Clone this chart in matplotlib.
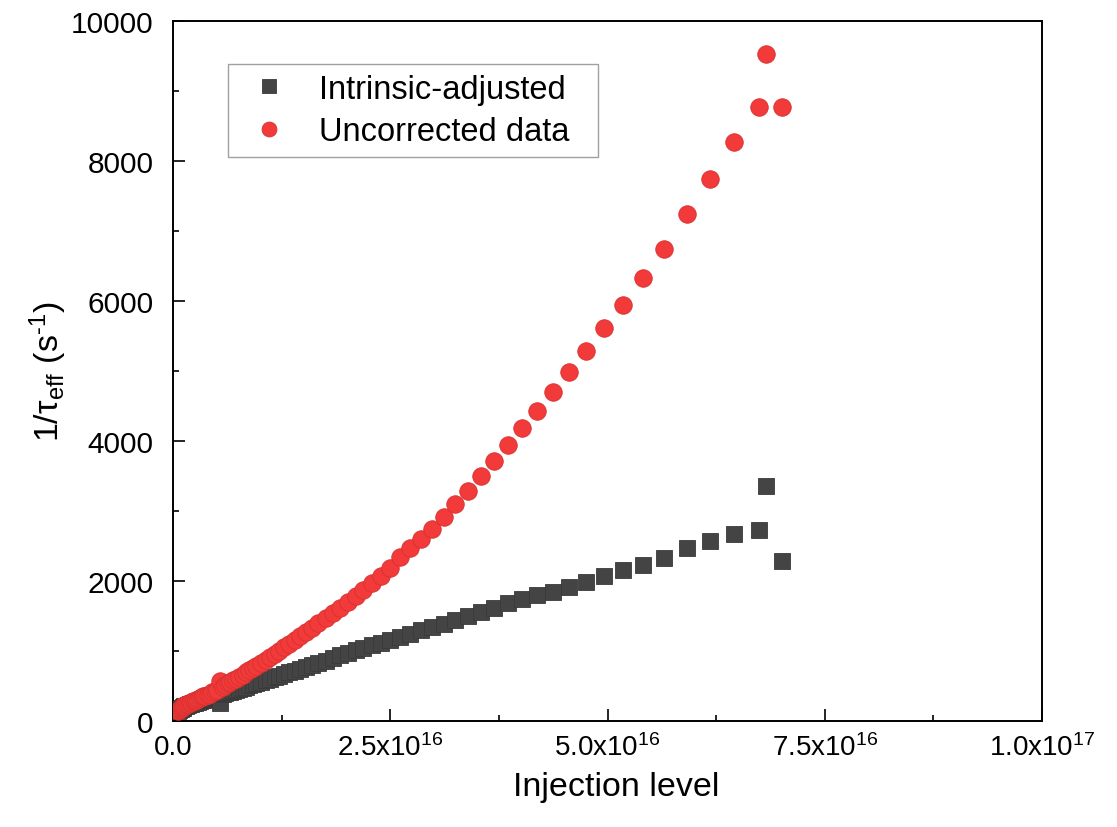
import numpy as np
import matplotlib
matplotlib.use("Agg")
import matplotlib.pyplot as plt
from matplotlib.ticker import MultipleLocator, FixedLocator, FixedFormatter

plt.rcParams["font.family"] = ["Liberation Sans", "DejaVu Sans"]
plt.rcParams["mathtext.fontset"] = "custom"
plt.rcParams["mathtext.rm"] = "Liberation Sans"
plt.rcParams["mathtext.it"] = "Liberation Sans:italic"

# Injection level (in units of 1e16 cm^-3)
injection_e16 = [
    0.06, 0.07, 0.08, 0.09, 0.10, 0.11, 0.12, 0.13, 0.15, 0.17,
    0.19, 0.21, 0.23, 0.25, 0.27, 0.29, 0.31, 0.33, 0.35, 0.37,
    0.40, 0.42, 0.45, 0.48, 0.51, 0.54, 0.57, 0.60, 0.63, 0.66,
    0.69, 0.72, 0.76, 0.80, 0.84, 0.88, 0.92, 0.96, 1.01, 1.07,
    1.12, 1.17, 1.22, 1.28, 1.34, 1.40, 1.46, 1.53, 1.60, 1.67,
    1.76, 1.84, 1.92, 2.01, 2.10, 2.19, 2.29, 2.39, 2.50, 2.61,
    2.73, 2.85, 2.98, 3.12, 3.25, 3.39, 3.54, 3.69, 3.86, 4.02,
    4.19, 4.37, 4.56, 4.75, 4.96, 5.18, 5.41, 5.65, 5.92, 6.18,
    6.45, 6.74, 6.82, 7.01,
]

# 1/tau_eff after intrinsic-recombination adjustment (s^-1)
intrinsic_adjusted = [
    148, 157, 166, 175, 184, 193, 202, 211, 220, 229,
    238, 246, 254, 262, 270, 278, 286, 294, 302, 310,
    318, 326, 338, 350, 362, 255, 385, 397, 409, 421,
    433, 445, 461, 477, 493, 509, 525, 541, 561, 582,
    603, 624, 645, 670, 695, 720, 745, 773, 802, 830,
    863, 895, 940, 975, 1010, 1045, 1083, 1121, 1160, 1202,
    1248, 1294, 1343, 1392, 1441, 1494, 1560, 1620, 1680, 1740,
    1795, 1850, 1915, 1985, 2070, 2155, 2230, 2330, 2470, 2570,
    2670, 2730, 3360, 2290,
]

# 1/tau_eff as measured (s^-1)
uncorrected = [
    150, 160, 171, 182, 193, 204, 215, 226, 237, 248,
    259, 270, 281, 292, 304, 316, 328, 340, 352, 364,
    376, 389, 408, 428, 449, 565, 492, 514, 536, 558,
    581, 604, 633, 662, 694, 725, 757, 790, 831, 873,
    915, 958, 1000, 1052, 1105, 1157, 1210, 1271, 1333, 1396,
    1468, 1541, 1615, 1700, 1786, 1874, 1973, 2075, 2180, 2340,
    2470, 2600, 2750, 2920, 3095, 3290, 3500, 3715, 3945, 4180,
    4430, 4700, 4980, 5280, 5610, 5950, 6330, 6750, 7240, 7740,
    8270, 8770, 9530, 8770,
]

x_tick_values = [0.0, 2.5e16, 5.0e16, 7.5e16, 1.0e17]
x_tick_labels = ["0.0", r"2.5x10$^{16}$", r"5.0x10$^{16}$",
                 r"7.5x10$^{16}$", r"1.0x10$^{17}$"]

x = np.array(injection_e16) * 1e16

fig = plt.figure(figsize=(11.17, 8.28), dpi=100)
ax = fig.add_axes([0.1549, 0.128, 0.778, 0.8454])

ax.plot(x, intrinsic_adjusted, linestyle="none", marker="s", markersize=11.2,
        markerfacecolor="#444444", markeredgecolor="#3a3a3a", markeredgewidth=0.6,
        label="Intrinsic-adjusted", zorder=3)
ax.plot(x, uncorrected, linestyle="none", marker="o", markersize=12.6,
        markerfacecolor="#F23A3A", markeredgecolor="#D83030", markeredgewidth=0.6,
        label="Uncorrected data", zorder=4)

ax.set_xlim(0, 1.0e17)
ax.set_ylim(0, 10000)

ax.xaxis.set_major_locator(FixedLocator(x_tick_values))
ax.xaxis.set_major_formatter(FixedFormatter(x_tick_labels))
ax.xaxis.set_minor_locator(MultipleLocator(1.25e16))
ax.yaxis.set_major_locator(MultipleLocator(2000))
ax.yaxis.set_minor_locator(MultipleLocator(1000))

ax.tick_params(which="both", direction="in", top=False, right=False,
               width=1.2, colors="black")
ax.tick_params(which="major", length=8.5)
ax.tick_params(axis="x", which="major", pad=9, labelsize=20)
ax.tick_params(axis="y", which="major", pad=14, labelsize=21.5)
ax.tick_params(which="minor", length=4.5)

for spine in ax.spines.values():
    spine.set_linewidth(1.4)
    spine.set_color("black")

ax.set_xlabel("Injection level", fontsize=24.5)
ax.set_ylabel("1/τ$_{\\mathregular{eff}}$ (s$^{\\mathregular{\u20101}}$)", fontsize=24.5)
ax.xaxis.set_label_coords(0.51, -0.072)
ax.yaxis.set_label_coords(-0.120, 0.5)

leg = ax.legend(loc="upper left", bbox_to_anchor=(0.0633, 0.8186, 0.4258, 0.12),
                mode="expand", borderaxespad=0, fontsize=23.5, frameon=True,
                fancybox=False, edgecolor="#888888", handletextpad=0.6,
                borderpad=0.3, labelspacing=0.35, handlelength=1.9,
                markerscale=0.85)
leg.get_frame().set_linewidth(1.0)

fig.savefig("out.png", dpi=100)
